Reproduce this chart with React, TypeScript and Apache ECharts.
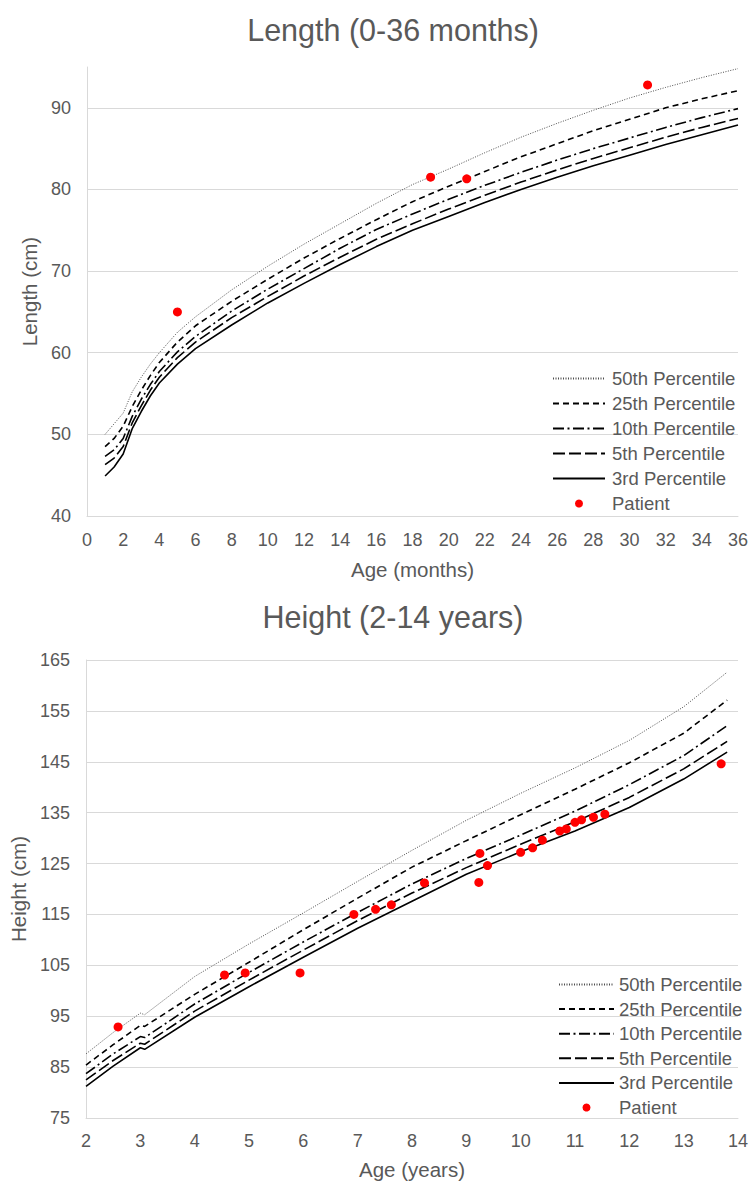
import React, { useEffect, useRef } from "react";
import * as echarts from "echarts";

// ---------- Length (0-36 months) ----------
const lengthAges = [1, 1.5, 2, 2.5, 3, 3.5, 4, 5, 6, 8, 10, 12, 14, 16, 18, 20, 22, 24, 26, 28, 30, 32, 34, 36];
const length50 = [50.0, 51.3, 52.6, 55.2, 57.0, 58.6, 60.0, 62.5, 64.4, 67.7, 70.6, 73.3, 75.8, 78.3, 80.6, 82.5, 84.5, 86.4, 88.1, 89.7, 91.2, 92.5, 93.7, 94.8];
const length25 = [48.5, 49.5, 51.0, 53.4, 55.4, 57.2, 58.8, 61.3, 63.3, 66.3, 69.0, 71.6, 74.0, 76.3, 78.5, 80.4, 82.2, 84.0, 85.6, 87.2, 88.6, 90.0, 91.1, 92.1];
const length10 = [47.3, 48.1, 49.5, 52.2, 54.3, 56.1, 57.7, 60.1, 62.0, 65.1, 67.8, 70.3, 72.8, 75.1, 77.0, 78.8, 80.5, 82.1, 83.6, 85.0, 86.3, 87.6, 88.8, 89.9];
const length5 = [46.3, 47.1, 48.5, 51.4, 53.5, 55.4, 57.0, 59.4, 61.3, 64.3, 66.9, 69.4, 71.7, 73.9, 75.8, 77.6, 79.3, 80.9, 82.4, 83.8, 85.1, 86.4, 87.6, 88.7];
const length3 = [44.9, 46.0, 47.6, 50.7, 52.8, 54.7, 56.3, 58.6, 60.5, 63.4, 66.1, 68.5, 70.8, 73.0, 75.0, 76.7, 78.4, 80.0, 81.5, 82.9, 84.2, 85.5, 86.7, 87.9];
const lengthPatientAges = [5, 19, 21, 31];
const lengthPatientValues = [65.0, 81.5, 81.3, 92.8];

// ---------- Height (2-14 years) ----------
const heightAges = [2, 2.5, 3, 3.08, 4, 5, 6, 7, 8, 9, 10, 11, 12, 13, 13.8];
const height50 = [87.6, 91.8, 95.6, 95.3, 102.8, 109.2, 115.3, 121.5, 127.6, 133.5, 138.8, 143.8, 149.2, 155.8, 162.6];
const height25 = [85.4, 89.4, 93.2, 93.0, 99.3, 105.6, 112.0, 118.2, 124.3, 129.5, 134.6, 139.6, 144.8, 150.6, 157.1];
const height10 = [83.7, 87.6, 91.0, 90.8, 97.4, 103.6, 109.6, 115.4, 121.0, 126.0, 130.6, 135.3, 140.5, 146.2, 152.1];
const height5 = [82.5, 86.3, 89.7, 89.5, 96.0, 102.1, 108.0, 113.8, 119.2, 124.2, 128.8, 133.2, 138.0, 143.6, 149.0];
const height3 = [81.2, 85.2, 88.8, 88.5, 94.8, 100.8, 106.6, 112.3, 117.6, 122.9, 127.3, 131.4, 136.0, 141.6, 146.9];
const heightPatientAges = [2.59, 4.55, 4.93, 5.94, 6.93, 7.33, 7.62, 8.23, 9.23, 9.25, 9.39, 10.0, 10.22, 10.4, 10.72, 10.84, 11.0, 11.12, 11.34, 11.55, 13.69];
const heightPatientValues = [92.9, 103.1, 103.5, 103.5, 115.0, 116.0, 116.9, 121.2, 121.3, 127.0, 124.6, 127.2, 128.1, 129.6, 131.4, 131.8, 133.1, 133.6, 134.1, 134.7, 144.6];

const seriesNames = ["50th Percentile", "25th Percentile", "10th Percentile", "5th Percentile", "3rd Percentile", "Patient"];

const FONT = "'Liberation Sans', Arial, sans-serif";
const TEXT = "#595959";
const GRID = "#d9d9d9";

const lineStyles: any[] = [
  { color: "#4d4d4d", width: 1, type: [1, 1.5] },
  { color: "#000", width: 1.6, type: [6, 4] },
  { color: "#000", width: 1.6, type: [11, 3.5, 2, 3.5] },
  { color: "#000", width: 1.6, type: [12, 4] },
  { color: "#000", width: 1.6, type: "solid" },
];

function pairs(xs: number[], ys: number[]) {
  return xs.map((x, i) => [x, ys[i]]);
}

export default function App() {
  const ref = useRef<HTMLDivElement>(null);
  useEffect(() => {
    if (!ref.current) return;
    const chart = echarts.init(ref.current, undefined, { renderer: "svg" });
    const lengthSets = [length50, length25, length10, length5, length3];
    const heightSets = [height50, height25, height10, height5, height3];

    const series: any[] = [];
    lengthSets.forEach((vals, i) => {
      series.push({
        name: seriesNames[i],
        type: "line",
        xAxisIndex: 0,
        yAxisIndex: 0,
        data: pairs(lengthAges, vals),
        symbol: "none",
        showSymbol: false,
        smooth: false,
        lineStyle: lineStyles[i],
        itemStyle: { color: lineStyles[i].color },
      });
    });
    series.push({
      name: "Patient",
      type: "scatter",
      xAxisIndex: 0,
      yAxisIndex: 0,
      data: pairs(lengthPatientAges, lengthPatientValues),
      symbol: "circle",
      symbolSize: 9,
      itemStyle: { color: "#ff0000", opacity: 1 },
      z: 5,
    });
    heightSets.forEach((vals, i) => {
      series.push({
        name: seriesNames[i],
        type: "line",
        xAxisIndex: 1,
        yAxisIndex: 1,
        data: pairs(heightAges, vals),
        symbol: "none",
        showSymbol: false,
        smooth: false,
        lineStyle: lineStyles[i],
        itemStyle: { color: lineStyles[i].color },
      });
    });
    series.push({
      name: "Patient",
      type: "scatter",
      xAxisIndex: 1,
      yAxisIndex: 1,
      data: pairs(heightPatientAges, heightPatientValues),
      symbol: "circle",
      symbolSize: 9,
      itemStyle: { color: "#ff0000", opacity: 1 },
      z: 5,
    });

    const axisCommon = {
      axisTick: { show: false },
      axisLine: { show: true, lineStyle: { color: GRID, width: 1 } },
      axisLabel: { color: TEXT, fontSize: 18, fontFamily: FONT },
      nameTextStyle: { color: TEXT, fontSize: 20.5, fontFamily: FONT },
      splitLine: { show: true, lineStyle: { color: GRID, width: 1 } },
    };

    const legendData = seriesNames.map((n) =>
      n === "Patient"
        ? { name: n, icon: "circle", itemStyle: { color: "#ff0000", opacity: 1 } }
        : { name: n, itemStyle: { color: "rgba(0,0,0,0)", borderWidth: 0, opacity: 0 } }
    );

    chart.setOption({
      animation: false,
      backgroundColor: "#fff",
      title: [
        {
          text: "Length (0-36 months)",
          left: 388,
          textAlign: "center",
          top: 9,
          textStyle: { color: TEXT, fontSize: 30.5, fontWeight: "normal", fontFamily: FONT },
        },
        {
          text: "Height (2-14 years)",
          left: 388,
          textAlign: "center",
          top: 596,
          textStyle: { color: TEXT, fontSize: 30.5, fontWeight: "normal", fontFamily: FONT },
        },
      ],
      grid: [
        { left: 87, right: 10, top: 67, height: 449 },
        { left: 86, right: 10, top: 660, height: 458 },
      ],
      legend: [
        {
          orient: "vertical",
          left: 547,
          top: 364,
          itemWidth: 52,
          itemHeight: 8,
          itemGap: 6,
          align: "left",
          data: legendData,
          textStyle: { color: TEXT, fontSize: 18.5, fontFamily: FONT, padding: [0, 0, 0, 2] },
        },
        {
          orient: "vertical",
          left: 553,
          top: 970,
          itemWidth: 55,
          itemHeight: 8,
          itemGap: 5.6,
          align: "left",
          data: legendData,
          textStyle: { color: TEXT, fontSize: 18.5, fontFamily: FONT, padding: [0, 0, 0, 0] },
        },
      ],
      xAxis: [
        {
          ...axisCommon,
          type: "value",
          gridIndex: 0,
          min: 0,
          max: 36,
          interval: 2,
          splitLine: { show: false },
          axisLabel: { ...axisCommon.axisLabel, margin: 15 },
          name: "Age (months)",
          nameLocation: "middle",
          nameGap: 43,
        },
        {
          ...axisCommon,
          type: "value",
          gridIndex: 1,
          min: 2,
          max: 14,
          interval: 1,
          splitLine: { show: false },
          axisLabel: { ...axisCommon.axisLabel, margin: 14 },
          name: "Age (years)",
          nameLocation: "middle",
          nameGap: 41,
        },
      ],
      yAxis: [
        {
          ...axisCommon,
          type: "value",
          gridIndex: 0,
          min: 40,
          max: 95,
          interval: 10,
          axisLabel: { ...axisCommon.axisLabel, margin: 16, showMaxLabel: false },
          splitLine: { show: true, showMinLine: false, showMaxLine: false, lineStyle: { color: GRID, width: 1 } },
          name: "Length (cm)",
          nameLocation: "middle",
          nameRotate: 90,
          nameGap: 47,
        },
        {
          ...axisCommon,
          type: "value",
          gridIndex: 1,
          min: 75,
          max: 165,
          interval: 10,
          axisLabel: { ...axisCommon.axisLabel, margin: 16 },
          splitLine: { show: true, showMinLine: false, lineStyle: { color: GRID, width: 1 } },
          name: "Height (cm)",
          nameLocation: "middle",
          nameRotate: 90,
          nameGap: 55,
        },
      ],
      series,
    });
    return () => chart.dispose();
  }, []);
  return (
    <div
      ref={ref}
      style={{ position: "fixed", left: 0, top: 0, width: 751, height: 1181, background: "#fff" }}
    />
  );
}
